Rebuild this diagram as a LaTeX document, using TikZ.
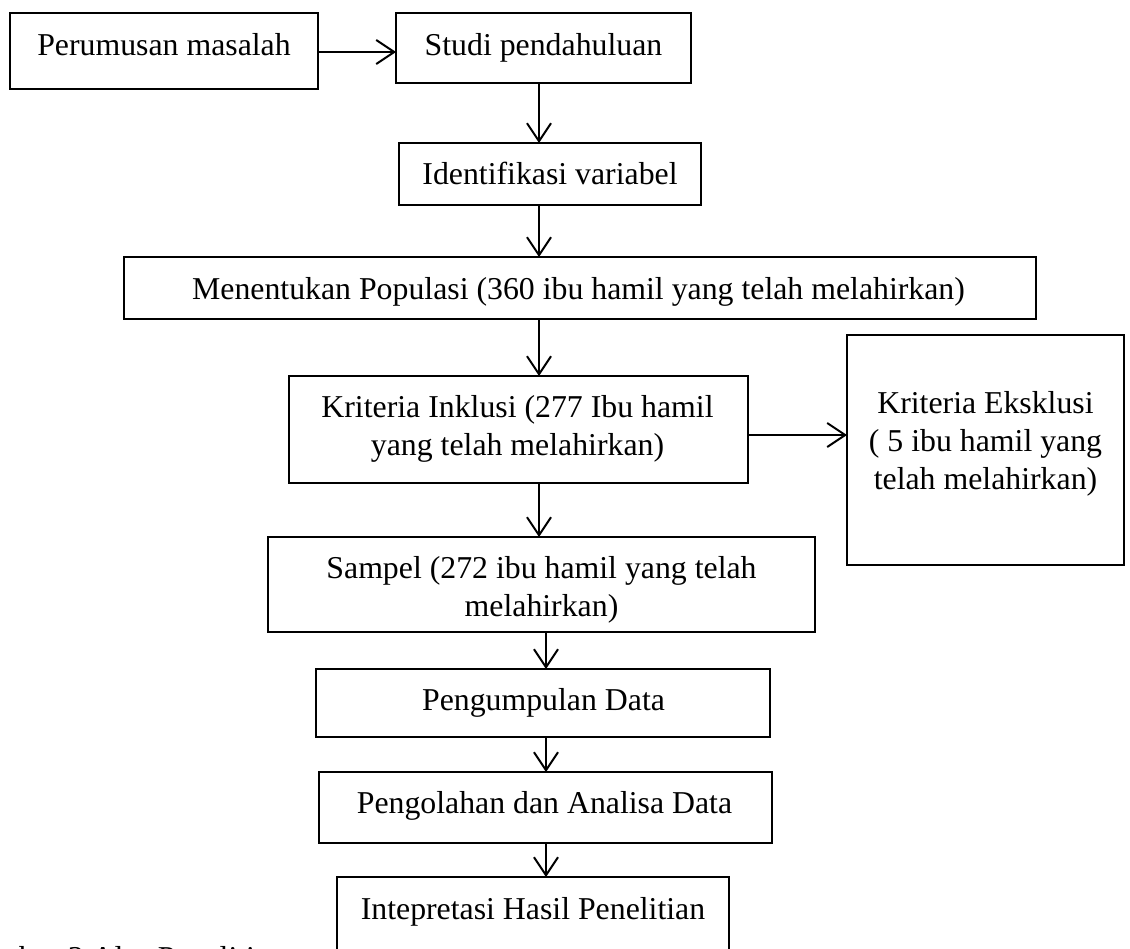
\documentclass[tikz,border=0pt]{standalone}
\usepackage{fontspec}
\setmainfont{Liberation Serif}
\usetikzlibrary{arrows.meta}
\begin{document}
\begin{tikzpicture}[x=0.5pt,y=-0.5pt,
  bx/.style 2 args={draw, line width=1.3pt, inner sep=0pt, outer sep=0pt,
    minimum width=#1*0.5pt, minimum height=#2*0.5pt},
  lbl/.style={anchor=base, inner sep=0pt, align=center,
    font=\fontsize{15.9}{19}\selectfont},
  arr/.style={line width=1pt, -{Straight Barb[length=9pt,width=12pt,line width=1pt]}}]
\useasboundingbox (0,0) rectangle (1130,948);
\clip (0,0) rectangle (1130,948);
\fill[white] (0,0) rectangle (1130,948);

% boxes
\node[bx={308}{76}]  (per) at (164,51) {};
\node[bx={295}{70}]  (stu) at (543.5,48) {};
\node[bx={302}{62}]  (idf) at (550,174) {};
\node[bx={912}{62}]  (pop) at (580,288) {};
\node[bx={459}{107}] (ink) at (518.5,429.5) {};
\node[bx={277}{230}] (eks) at (985.5,450) {};
\node[bx={547}{95}]  (sam) at (541.5,584.5) {};
\node[bx={454}{68}]  (pgm) at (543,703) {};
\node[bx={453}{71}]  (pgo) at (545.5,807.5) {};
\node[bx={392}{112}] (int) at (533,933) {};

% labels (base = baseline of the last line)
\node[lbl] (tper) at (164,55) {Perumusan masalah};
\node[lbl] (tstu) at (543.5,55) {Studi pendahuluan};
\node[lbl] (tidf) at (550,184) {Identifikasi variabel};
\node[lbl] (tpop) at (578.5,299) {Menentukan Populasi (360 ibu hamil yang telah melahirkan)};
\node[lbl] (tink) at (517.5,455) {Kriteria Inklusi (277 Ibu hamil\\yang telah melahirkan)};
\node[lbl] (teks) at (985.5,489) {Kriteria Eksklusi\\( 5 ibu hamil yang\\telah melahirkan)};
\node[lbl] (tsam) at (541.5,616) {Sampel (272 ibu hamil yang telah\\melahirkan)};
\node[lbl] (tpgm) at (543.5,710) {Pengumpulan Data};
\node[lbl] (tpgo) at (544.5,813) {Pengolahan dan Analisa Data};
\node[lbl] (tint) at (533,919) {Intepretasi Hasil Penelitian};
\node[lbl, anchor=base west] (cap) at (-43,968) {Gambar 3 Alur Penelitian};

% connector guides
\coordinate (ax) at (539,0);
\coordinate (bx) at (546,0);
\coordinate (ay) at (0,52);
\coordinate (ey) at (0,435);

\draw[arr] (per.east |- ay) -- (stu.west |- ay);
\draw[arr] (stu.south -| ax) -- (idf.north -| ax);
\draw[arr] (idf.south -| ax) -- (pop.north -| ax);
\draw[arr] (pop.south -| ax) -- (ink.north -| ax);
\draw[arr] (ink.south -| ax) -- (sam.north -| ax);
\draw[arr] (ink.east |- ey) -- (eks.west |- ey);
\draw[arr] (sam.south -| bx) -- (pgm.north -| bx);
\draw[arr] (pgm.south -| bx) -- (pgo.north -| bx);
\draw[arr] (pgo.south -| bx) -- (int.north -| bx);
\end{tikzpicture}
\end{document}
